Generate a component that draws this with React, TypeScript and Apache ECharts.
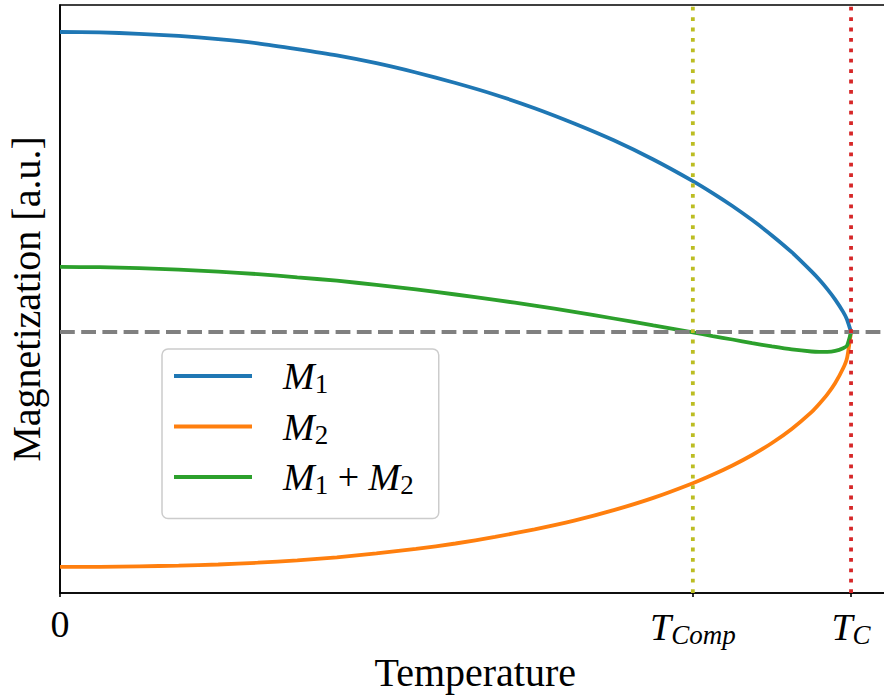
import React, { useEffect, useRef } from "react";
import * as echarts from "echarts";

// Temperature samples (T / T_C)
const temps = [0, 0.05, 0.1, 0.15, 0.2, 0.25, 0.3, 0.35, 0.4, 0.45, 0.5, 0.55, 0.6, 0.65, 0.7, 0.75, 0.8, 0.825, 0.85, 0.875, 0.9, 0.925, 0.95, 0.96, 0.97, 0.98, 0.99, 0.995, 1.0];
// Sublattice magnetizations (a.u.)
const m1 = [1.0, 0.999, 0.994, 0.987, 0.976, 0.962, 0.943, 0.922, 0.896, 0.865, 0.830, 0.791, 0.746, 0.695, 0.639, 0.575, 0.503, 0.463, 0.420, 0.373, 0.322, 0.266, 0.202, 0.174, 0.143, 0.108, 0.067, 0.041, 0];
const m2 = [-0.783, -0.783, -0.781, -0.779, -0.775, -0.769, -0.761, -0.751, -0.738, -0.723, -0.705, -0.683, -0.658, -0.629, -0.594, -0.553, -0.504, -0.476, -0.445, -0.410, -0.370, -0.323, -0.267, -0.239, -0.208, -0.170, -0.121, -0.086, 0];
const mTotal = [0.217, 0.216, 0.213, 0.208, 0.201, 0.193, 0.182, 0.171, 0.157, 0.142, 0.125, 0.107, 0.088, 0.067, 0.045, 0.022, -0.001, -0.014, -0.025, -0.037, -0.048, -0.058, -0.065, -0.066, -0.066, -0.063, -0.054, -0.045, 0];

const seriesNames = ["M1", "M2", "M1 + M2"];
const T_COMP = 0.8;
const T_C = 1.0;
const tickValues = [0, T_COMP, T_C];

const FONT = "'Liberation Serif', 'Times New Roman', serif";

const toPairs = (ys: number[]) => temps.map((t, i) => [t, ys[i]]);

export default function App() {
  const ref = useRef<HTMLDivElement>(null);

  useEffect(() => {
    if (!ref.current) return;
    const chart = echarts.init(ref.current, null, { renderer: "svg" });

    const rich = {
      i: { fontFamily: FONT, fontStyle: "italic", fontSize: 38, color: "#000" },
      r: { fontFamily: FONT, fontSize: 38, color: "#000" },
      s: { fontFamily: FONT, fontSize: 27, color: "#000", padding: [16, 0, 0, 0] },
      si: { fontFamily: FONT, fontStyle: "italic", fontSize: 27, color: "#000", padding: [16, 0, 0, 0] },
      p: { width: 26, fontSize: 38 },
    };

    const legendText: Record<string, string> = {
      "M1": "{p| }{i|M}{s|1}",
      "M2": "{p| }{i|M}{s|2}",
      "M1 + M2": "{p| }{i|M}{s|1}{r| + }{i|M}{s|2}",
    };

    const lineSeries = (name: string, ys: number[], color: string) => ({
      name,
      type: "line",
      data: toPairs(ys),
      showSymbol: false,
      smooth: 0.2,
      lineStyle: { color, width: 3.8 },
      itemStyle: { color },
      z: 2,
    });

    chart.setOption({
      animation: false,
      grid: {
        left: 60,
        top: 5,
        right: 9.4,
        bottom: 102,
        show: true,
        borderColor: "#000",
        borderWidth: 1.6,
        outerBoundsMode: "none",
        containLabel: false,
      },
      xAxis: {
        type: "value",
        min: 0,
        max: 1.05,
        splitLine: { show: false },
        axisLine: { show: true, onZero: false, lineStyle: { color: "#000", width: 1.6 } },
        axisTick: {
          show: true,
          length: 4,
          customValues: tickValues,
          lineStyle: { color: "#000", width: 1.6 },
        },
        axisLabel: {
          show: true,
          customValues: tickValues,
          margin: 12,
          formatter: (v: number) => {
            if (v === 0) return "{r|0}";
            if (Math.abs(v - T_COMP) < 1e-9) return "{i|T}{si|Comp}";
            return "{i|T}{si|C}";
          },
          rich,
        },
        name: "Temperature",
        nameLocation: "middle",
        nameGap: 56,
        nameTextStyle: { fontFamily: FONT, fontSize: 40, color: "#000" },
      },
      yAxis: {
        type: "value",
        min: -0.87,
        max: 1.09,
        splitLine: { show: false },
        axisLine: { show: true, onZero: false, lineStyle: { color: "#000", width: 1.6 } },
        axisTick: { show: false },
        axisLabel: { show: false },
        name: "Magnetization [a.u.]",
        nameLocation: "middle",
        nameGap: 14,
        nameTextStyle: { fontFamily: FONT, fontSize: 40, color: "#000" },
      },
      legend: {
        data: seriesNames,
        orient: "vertical",
        left: 162,
        top: 349,
        icon: "rect",
        itemWidth: 78,
        itemHeight: 4,
        itemGap: 10,
        padding: [8, 25, 20, 12],
        backgroundColor: "rgba(255,255,255,0.8)",
        borderColor: "#cccccc",
        borderWidth: 1.5,
        borderRadius: 6,
        formatter: (name: string) => legendText[name] ?? name,
        textStyle: { fontFamily: FONT, fontSize: 38, color: "#000", rich },
      },
      series: [
        lineSeries(seriesNames[0], m1, "#1f77b4"),
        lineSeries(seriesNames[1], m2, "#ff7f0e"),
        lineSeries(seriesNames[2], mTotal, "#2ca02c"),
        {
          name: "zero",
          type: "line",
          data: [[0, 0], [1.05, 0]],
          showSymbol: false,
          silent: true,
          lineStyle: { color: "#808080", width: 3.8, type: [14.8, 6.4] },
          z: 3,
        },
        {
          name: "TComp",
          type: "line",
          data: [[T_COMP, -0.87], [T_COMP, 1.09]],
          showSymbol: false,
          silent: true,
          lineStyle: { color: "#bcbd22", width: 3.8, type: [3.8, 6.6] },
          z: 3,
        },
        {
          name: "TC",
          type: "line",
          data: [[T_C, -0.87], [T_C, 1.09]],
          showSymbol: false,
          silent: true,
          lineStyle: { color: "#d62728", width: 3.8, type: [3.8, 6.6] },
          z: 3,
        },
      ],
    });

    return () => chart.dispose();
  }, []);

  return (
    <div style={{ position: "absolute", left: 0, top: 0, width: 884, height: 695, overflow: "hidden", background: "#fff" }}>
      <div ref={ref} style={{ width: 900, height: 695 }} />
    </div>
  );
}
